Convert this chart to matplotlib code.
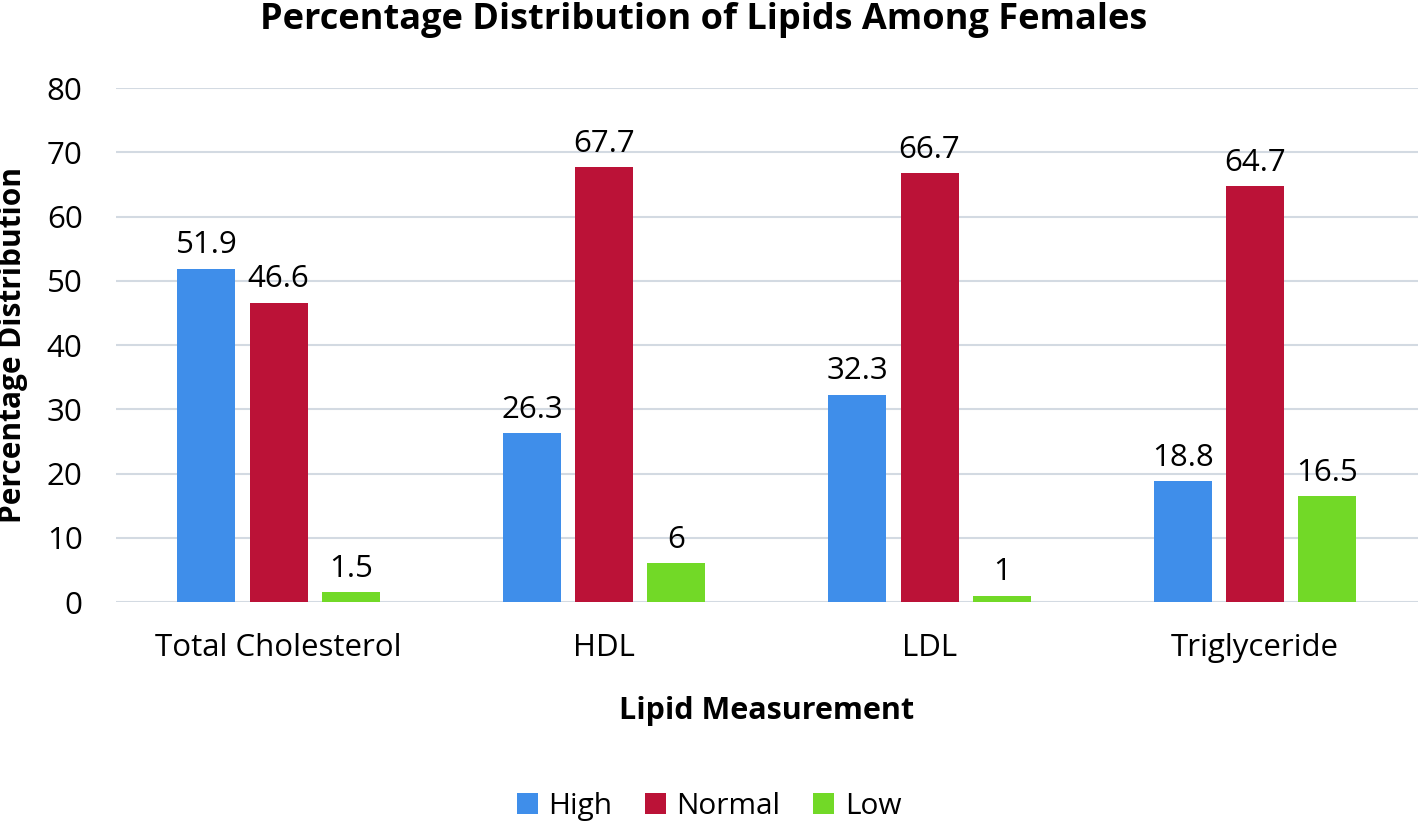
import numpy as np
import matplotlib.pyplot as plt

categories = ["Total Cholesterol", "HDL", "LDL", "Triglyceride"]
high = [51.9, 26.3, 32.3, 18.8]
normal = [46.6, 67.7, 66.7, 64.7]
low = [1.5, 6, 1, 16.5]
series_names = ["High", "Normal", "Low"]
colors = ["#3f8eea", "#bb1237", "#72d927"]

plt.rcParams['font.family'] = ['Open Sans', 'DejaVu Sans']

fig = plt.figure(figsize=(14.18, 8.21), dpi=100)
ax = fig.add_axes([0.0818, 0.2667, 0.918, 0.6261])

x = np.arange(len(categories))
width = 0.178
step = 0.222
for i, (vals, name, c) in enumerate(zip([high, normal, low], series_names, colors)):
    pos = x + (i - 1) * step
    ax.bar(pos, vals, width=width, color=c, label=name, zorder=3)
    for px, v in zip(pos, vals):
        ax.annotate(f"{v:g}", (px, v), xytext=(0, 6), textcoords="offset points",
                    ha="center", va="bottom", fontsize=22.5)

ax.set_xlim(-0.5, len(categories) - 0.5)
ax.set_ylim(0, 80)
ax.set_yticks(range(0, 81, 10))
ax.set_xticks(x)
ax.set_xticklabels(categories)
ax.tick_params(axis="both", length=0, labelsize=22.5)
ax.tick_params(axis="x", pad=22)
ax.tick_params(axis="y", pad=24)
ax.grid(axis="y", color="#d3dae2", linewidth=1.5, zorder=0)
for s in ax.spines.values():
    s.set_visible(False)

ax.set_ylabel("Percentage Distribution", fontsize=21.5, fontweight="bold")
ax.yaxis.set_label_coords(-0.0676, 0.5)
ax.set_xlabel("Lipid Measurement", fontsize=22, fontweight="bold", labelpad=24)
fig.suptitle("Percentage Distribution of Lipids Among Females", fontsize=26,
             fontweight="bold", y=0.997, x=0.496)

fig.legend(loc="center", bbox_to_anchor=(0.5, 1 - 806 / 821), ncol=3, frameon=False,
           fontsize=21.5, handlelength=0.7, handleheight=0.7, columnspacing=1.1,
           handletextpad=0.35)

fig.savefig("out.png", dpi=100)
